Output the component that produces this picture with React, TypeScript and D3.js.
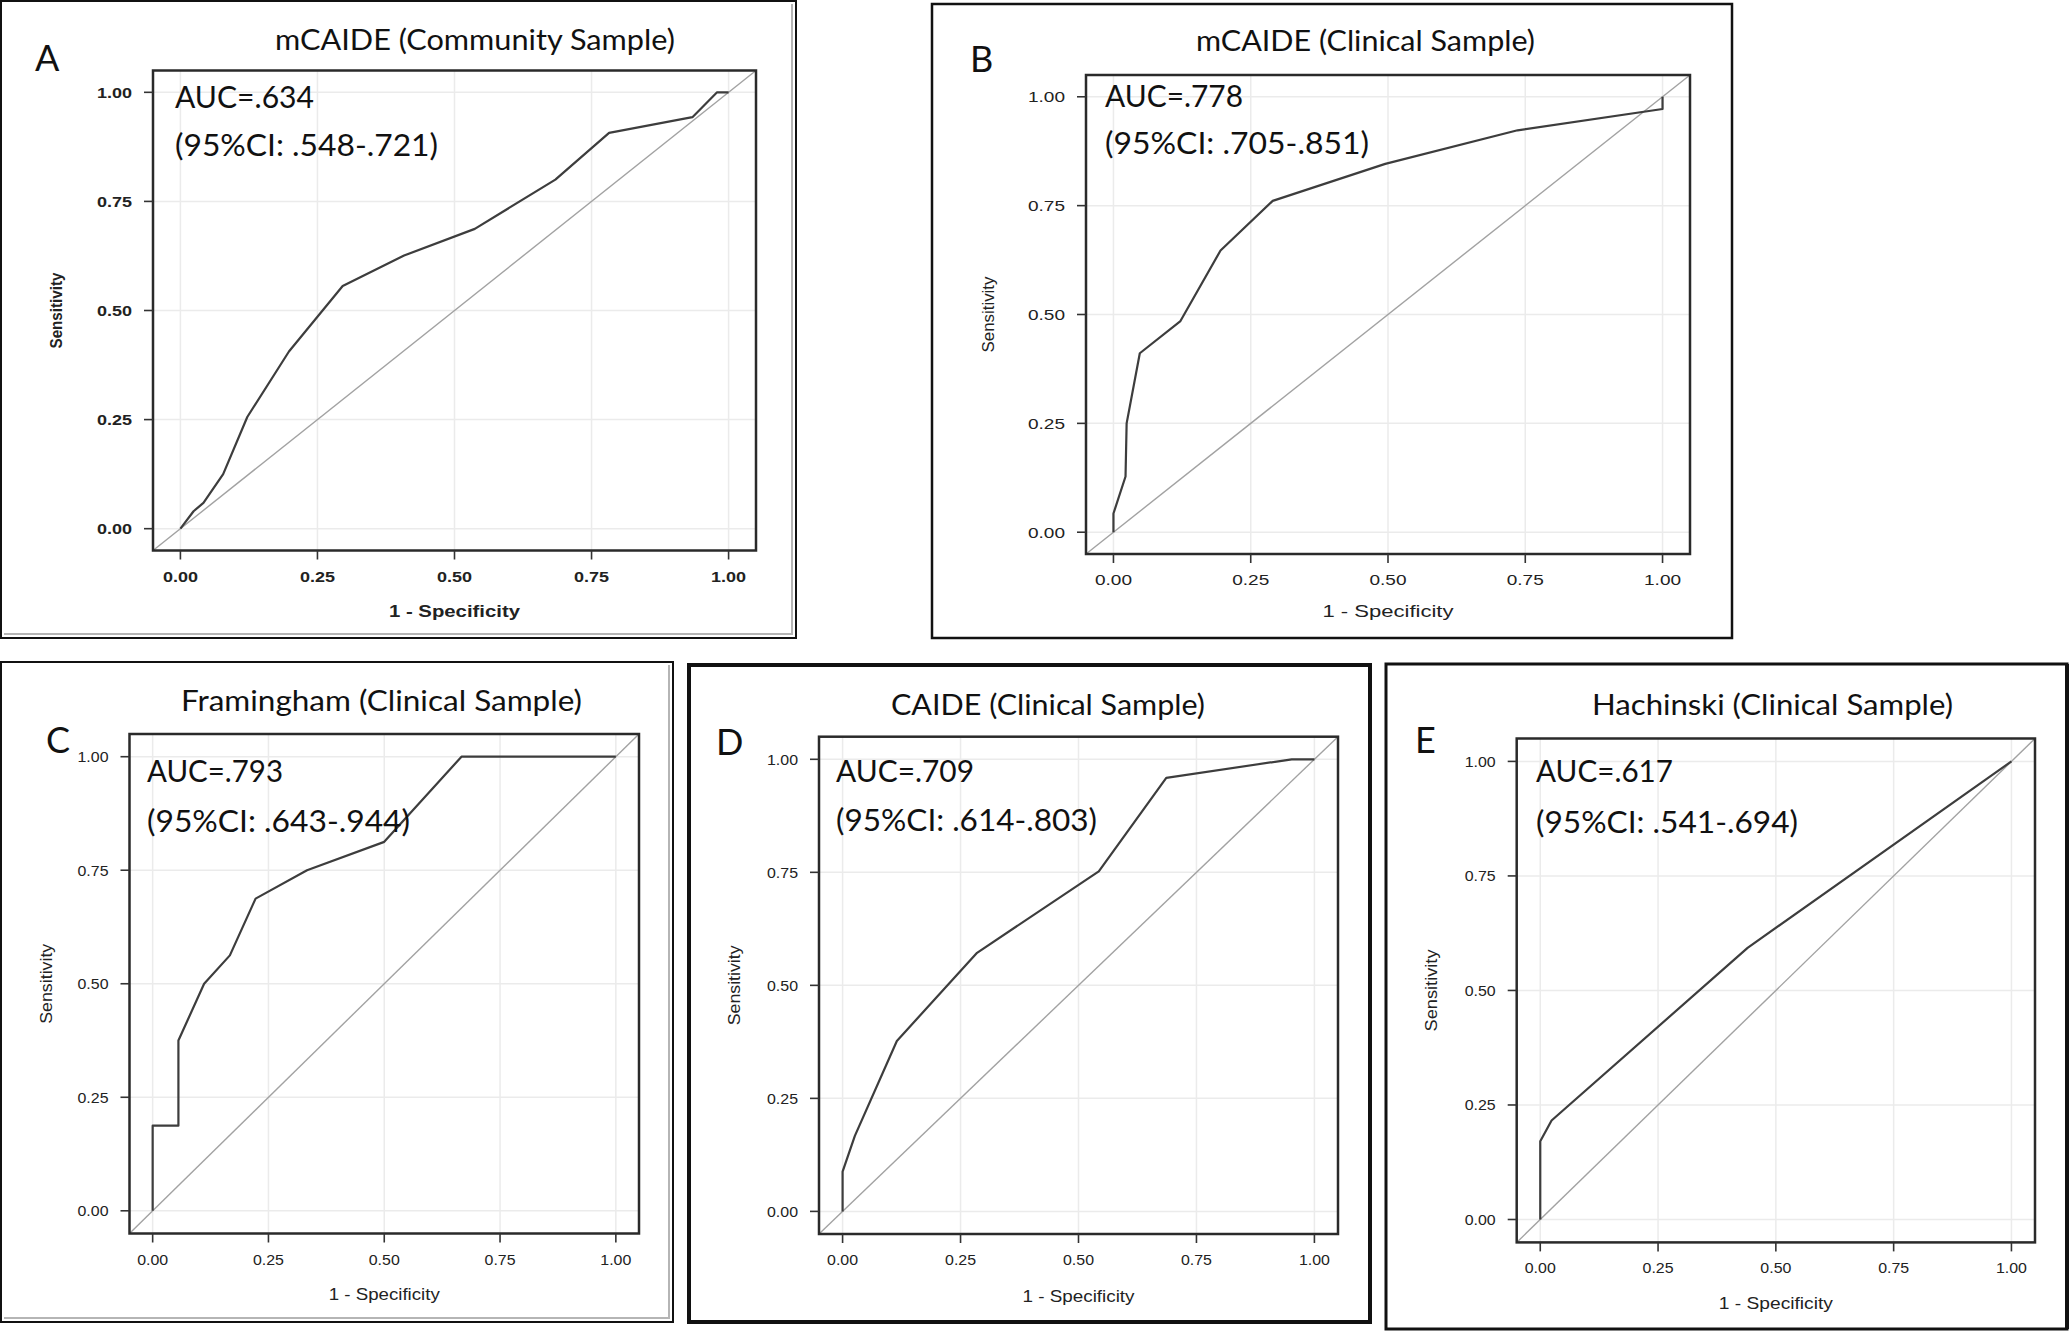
import React from 'react';
import * as d3 from 'd3';

// ---------- data ----------
const tickValues = [0, 0.25, 0.5, 0.75, 1];
const tickLabels = ['0.00', '0.25', '0.50', '0.75', '1.00'];
const panelLetters = ['A', 'B', 'C', 'D', 'E'];
const panelTitles = [
  'mCAIDE (Community Sample)',
  'mCAIDE (Clinical Sample)',
  'Framingham (Clinical Sample)',
  'CAIDE (Clinical Sample)',
  'Hachinski (Clinical Sample)',
];
const aucLabels = ['AUC=.634', 'AUC=.778', 'AUC=.793', 'AUC=.709', 'AUC=.617'];
const ciLabels = [
  '(95%CI: .548-.721)',
  '(95%CI: .705-.851)',
  '(95%CI: .643-.944)',
  '(95%CI: .614-.803)',
  '(95%CI: .541-.694)',
];
const xAxisTitle = '1 - Specificity';
const yAxisTitle = 'Sensitivity';

const fprA = [0, 0.024, 0.042, 0.078, 0.122, 0.198, 0.296, 0.408, 0.537, 0.684, 0.782, 0.934, 0.979, 1.0];
const tprA = [0, 0.04, 0.059, 0.125, 0.256, 0.406, 0.556, 0.626, 0.687, 0.8, 0.907, 0.943, 1.0, 1.0];
const fprB = [0, 0, 0.022, 0.024, 0.048, 0.122, 0.195, 0.29, 0.495, 0.736, 1.0, 1.0];
const tprB = [0, 0.043, 0.128, 0.25, 0.411, 0.485, 0.647, 0.761, 0.846, 0.923, 0.972, 1.0];
const fprC = [0, 0, 0.0556, 0.0556, 0.1111, 0.1667, 0.2222, 0.3333, 0.5, 0.6667, 1];
const tprC = [0, 0.1875, 0.1875, 0.375, 0.5, 0.5625, 0.6875, 0.75, 0.8125, 1, 1];
const fprD = [0, 0, 0.026, 0.115, 0.285, 0.543, 0.686, 0.952, 1];
const tprD = [0, 0.088, 0.167, 0.377, 0.572, 0.752, 0.959, 1.0, 1];
const fprE = [0, 0, 0.024, 0.44, 1];
const tprE = [0, 0.171, 0.216, 0.593, 1];

const curves = [
  [fprA, tprA],
  [fprB, tprB],
  [fprC, tprC],
  [fprD, tprD],
  [fprE, tprE],
];

const domain: [number, number] = [-0.05, 1.05];

// ---------- layout ----------
const layout = [
  {
    fx: [153, 756], fy: [70.5, 550.5],
    border: { x: 1, y: 1, w: 795, h: 637, sw: 2, shadow: true },
    letter: { x: 35, y: 71 },
    title: { x: 275, y: 50, len: 400 },
    auc: { x: 175, y1: 108, y2: 156, len1: 139, len2: 263 },
    yTitleX: 56, yTitleLen: 76, xTitleY: 617, xTitleLen: 131, tickLen: 35, bold: true,
  },
  {
    fx: [1086, 1690], fy: [75, 554],
    border: { x: 932, y: 4, w: 800, h: 634, sw: 2.5, shadow: false },
    letter: { x: 970, y: 72 },
    title: { x: 1196, y: 51, len: 339 },
    auc: { x: 1105, y1: 107, y2: 154, len1: 138, len2: 264 },
    yTitleX: 988, yTitleLen: 76, xTitleY: 617, xTitleLen: 131, tickLen: 37, bold: false,
  },
  {
    fx: [129.5, 639], fy: [734, 1233.5],
    border: { x: 1, y: 662, w: 672, h: 660, sw: 2, shadow: true },
    letter: { x: 46, y: 753 },
    title: { x: 181, y: 711, len: 401 },
    auc: { x: 147, y1: 782, y2: 832, len1: 136, len2: 263 },
    yTitleX: 46, yTitleLen: 80, xTitleY: 1300, xTitleLen: 111, tickLen: 31, bold: false,
  },
  {
    fx: [819, 1338], fy: [736.7, 1234],
    border: { x: 689, y: 665, w: 681, h: 657, sw: 4, shadow: false },
    letter: { x: 716, y: 755 },
    title: { x: 891, y: 715, len: 314 },
    auc: { x: 836, y1: 782, y2: 831, len1: 138, len2: 261 },
    yTitleX: 734, yTitleLen: 80, xTitleY: 1302, xTitleLen: 112, tickLen: 31, bold: false,
  },
  {
    fx: [1516.7, 2035], fy: [738.5, 1242.4],
    border: { x: 1386, y: 664, w: 681, h: 665, sw: 3, shadow: false },
    letter: { x: 1415, y: 753 },
    title: { x: 1592, y: 715, len: 361 },
    auc: { x: 1536, y1: 782, y2: 833, len1: 137, len2: 262 },
    yTitleX: 1431, yTitleLen: 82, xTitleY: 1309, xTitleLen: 114, tickLen: 31, bold: false,
  },
];

const humanFont = 'Lato, "Open Sans", sans-serif';
const axisFont = '"Liberation Sans", Arial, sans-serif';

function Panel({ i }: { i: number }) {
  const L = layout[i];
  const x = d3.scaleLinear().domain(domain).range(L.fx as [number, number]);
  const y = d3.scaleLinear().domain(domain).range([L.fy[1], L.fy[0]]);
  const [fpr, tpr] = curves[i];
  const pts: [number, number][] = fpr.map((f, k) => [f, tpr[k]]);
  const line = d3
    .line<[number, number]>()
    .x((d) => x(d[0]))
    .y((d) => y(d[1]));
  const b = L.border;
  const fw = L.bold ? 'bold' : 'normal';
  const left = L.fx[0];
  const right = L.fx[1];
  const top = L.fy[0];
  const bottom = L.fy[1];
  return (
    <g>
      {/* panel border */}
      <rect x={b.x} y={b.y} width={b.w} height={b.h} fill="none" stroke="#111" strokeWidth={b.sw} />
      {b.shadow && (
        <path
          d={`M${b.x + b.w - 4},${b.y + 3} V${b.y + b.h - 4} H${b.x + 3}`}
          fill="none"
          stroke="#b5b5b5"
          strokeWidth={2}
        />
      )}
      {i === 4 && (
        <line x1={b.x + b.w} y1={b.y} x2={b.x + b.w} y2={b.y + b.h} stroke="#111" strokeWidth={4} />
      )}

      {/* grid */}
      {tickValues.map((t) => (
        <g key={'g' + t}>
          <line x1={x(t)} x2={x(t)} y1={top} y2={bottom} stroke="#ebebeb" strokeWidth={1.5} />
          <line x1={left} x2={right} y1={y(t)} y2={y(t)} stroke="#ebebeb" strokeWidth={1.5} />
        </g>
      ))}

      {/* diagonal reference */}
      <line
        x1={x(domain[0])}
        y1={y(domain[0])}
        x2={x(domain[1])}
        y2={y(domain[1])}
        stroke="#a2a2a2"
        strokeWidth={1.4}
      />

      {/* ROC curve */}
      <path d={line(pts) || ''} fill="none" stroke="#3d3d3d" strokeWidth={2.2} strokeLinejoin="round" />

      {/* frame */}
      <rect x={left} y={top} width={right - left} height={bottom - top} fill="none" stroke="#2a2a2a" strokeWidth={2.5} />

      {/* ticks */}
      {tickValues.map((t, k) => (
        <g key={'t' + t}>
          <line x1={x(t)} x2={x(t)} y1={bottom} y2={bottom + 9} stroke="#333" strokeWidth={1.6} />
          <line x1={left - 9} x2={left} y1={y(t)} y2={y(t)} stroke="#333" strokeWidth={1.6} />
          <text
            x={x(t) - L.tickLen / 2}
            y={bottom + 31}
            fontFamily={axisFont}
            fontSize={15.5}
            fontWeight={fw}
            fill="#222"
            textLength={L.tickLen}
            lengthAdjust="spacingAndGlyphs"
          >
            {tickLabels[k]}
          </text>
          <text
            x={left - 21 - L.tickLen}
            y={y(t) + 5.5}
            fontFamily={axisFont}
            fontSize={15.5}
            fontWeight={fw}
            fill="#222"
            textLength={L.tickLen}
            lengthAdjust="spacingAndGlyphs"
          >
            {tickLabels[k]}
          </text>
        </g>
      ))}

      {/* axis titles */}
      <text
        x={x(0.5) - L.xTitleLen / 2}
        y={L.xTitleY}
        fontFamily={axisFont}
        fontSize={17}
        fontWeight={fw}
        fill="#222"
        textLength={L.xTitleLen}
        lengthAdjust="spacingAndGlyphs"
      >
        {xAxisTitle}
      </text>
      <text
        transform={`translate(${L.yTitleX + 6},${y(0.5) + L.yTitleLen / 2}) rotate(-90)`}
        fontFamily={axisFont}
        fontSize={16}
        fontWeight={fw}
        fill="#222"
        textLength={L.yTitleLen}
        lengthAdjust="spacingAndGlyphs"
      >
        {yAxisTitle}
      </text>

      {/* panel letter, title, AUC */}
      <text x={L.letter.x} y={L.letter.y} fontFamily={humanFont} fontSize={36} fill="#111">
        {panelLetters[i]}
      </text>
      <text
        x={L.title.x}
        y={L.title.y}
        fontFamily={humanFont}
        fontSize={29.5}
        fill="#111"
        textLength={L.title.len}
        lengthAdjust="spacingAndGlyphs"
      >
        {panelTitles[i]}
      </text>
      <text
        x={L.auc.x}
        y={L.auc.y1}
        fontFamily={humanFont}
        fontSize={31}
        fill="#111"
        textLength={L.auc.len1}
        lengthAdjust="spacingAndGlyphs"
      >
        {aucLabels[i]}
      </text>
      <text
        x={L.auc.x}
        y={L.auc.y2}
        fontFamily={humanFont}
        fontSize={31}
        fill="#111"
        textLength={L.auc.len2}
        lengthAdjust="spacingAndGlyphs"
      >
        {ciLabels[i]}
      </text>
    </g>
  );
}

export default function App() {
  return (
    <svg
      width={2070}
      height={1332}
      viewBox="0 0 2070 1332"
      style={{ position: 'absolute', left: 0, top: 0, display: 'block', background: '#fff' }}
    >
      <rect x={0} y={0} width={2070} height={1332} fill="#fff" />
      {panelLetters.map((_, i) => (
        <Panel key={i} i={i} />
      ))}
    </svg>
  );
}
